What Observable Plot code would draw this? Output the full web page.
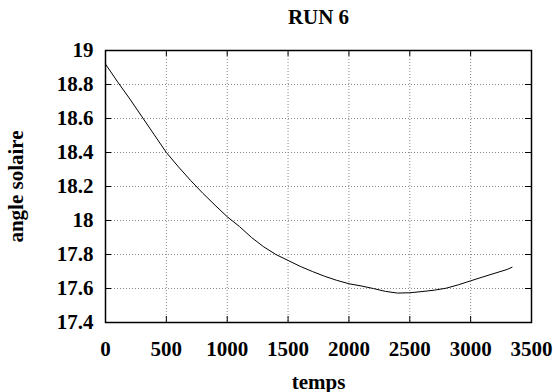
<!DOCTYPE html>
<html>
<head>
<meta charset="utf-8">
<script src="https://cdn.jsdelivr.net/npm/d3@7"></script>
<script src="https://cdn.jsdelivr.net/npm/@observablehq/plot@0.6"></script>
<style>
  html, body { margin: 0; padding: 0; background: #fff; }
  #chart svg, #chart svg g, #chart svg text { font-variant: normal !important; font-variant-numeric: normal !important; }
</style>
</head>
<body>
<div id="chart"></div>
<script>
// Data
const temps = [0, 100, 200, 300, 400, 500, 600, 700, 800, 900, 1000, 1100, 1200, 1300, 1400, 1500, 1600, 1700, 1800, 1900, 2000, 2100, 2200, 2300, 2400, 2500, 2600, 2700, 2800, 2900, 3000, 3100, 3200, 3300, 3340];
const angle = [18.92, 18.815, 18.715, 18.61, 18.505, 18.40, 18.315, 18.235, 18.16, 18.09, 18.022, 17.965, 17.90, 17.845, 17.80, 17.765, 17.73, 17.70, 17.672, 17.648, 17.628, 17.615, 17.60, 17.583, 17.573, 17.575, 17.582, 17.59, 17.602, 17.622, 17.645, 17.668, 17.69, 17.712, 17.725];
const xTicks = [0, 500, 1000, 1500, 2000, 2500, 3000, 3500];
const yTicks = [17.4, 17.6, 17.8, 18, 18.2, 18.4, 18.6, 18.8, 19];
const title = "RUN 6";
const xLabel = "temps";
const yLabel = "angle solaire";

const data = temps.map((t, i) => ({t, v: angle[i]}));

const W = 553, H = 392;
const mTop = 50, mRight = 22, mBottom = 70, mLeft = 105;
const plotW = W - mLeft - mRight, plotH = H - mTop - mBottom;
const tick = 6;
const font = "'Liberation Serif', 'Times New Roman', serif";
const textStyle = {fontFamily: font, fontSize: 21, fontWeight: "bold", fontVariant: "normal"};
const gridStyle = {stroke: "#888", strokeOpacity: 1, strokeWidth: 1, strokeDasharray: "1,2"};

const chart = Plot.plot({
  width: W,
  height: H,
  marginTop: mTop,
  marginRight: mRight,
  marginBottom: mBottom,
  marginLeft: mLeft,
  style: {fontFamily: font, fontSize: "21px", fontWeight: "bold", color: "#000", background: "#fff"},
  x: {domain: [0, 3500]},
  y: {domain: [17.4, 19]},
  marks: [
    Plot.gridX(xTicks, gridStyle),
    Plot.gridY(yTicks, gridStyle),
    // inward mirrored ticks
    Plot.ruleX(xTicks, {stroke: "#000", insetTop: plotH - tick}),
    Plot.ruleX(xTicks, {stroke: "#000", insetBottom: plotH - tick}),
    Plot.ruleY(yTicks, {stroke: "#000", insetRight: plotW - tick}),
    Plot.ruleY(yTicks, {stroke: "#000", insetLeft: plotW - tick}),
    Plot.axisX(xTicks, {...textStyle, tickSize: 0, tickPadding: 19, tickFormat: d => String(d), label: xLabel, labelAnchor: "center", labelArrow: "none", labelOffset: 66}),
    Plot.axisY(yTicks, {...textStyle, tickSize: 0, tickPadding: 12, tickFormat: d => String(d), label: yLabel, labelAnchor: "center", labelArrow: "none", labelOffset: 97}),
    Plot.line(data, {x: "t", y: "v", stroke: "#000", strokeWidth: 1}),
    Plot.frame({stroke: "#000", strokeWidth: 1.5}),
    Plot.text([title], {...textStyle, frameAnchor: "top", lineAnchor: "bottom", dy: -27, text: d => d})
  ]
});
document.getElementById("chart").appendChild(chart);
</script>
</body>
</html>
